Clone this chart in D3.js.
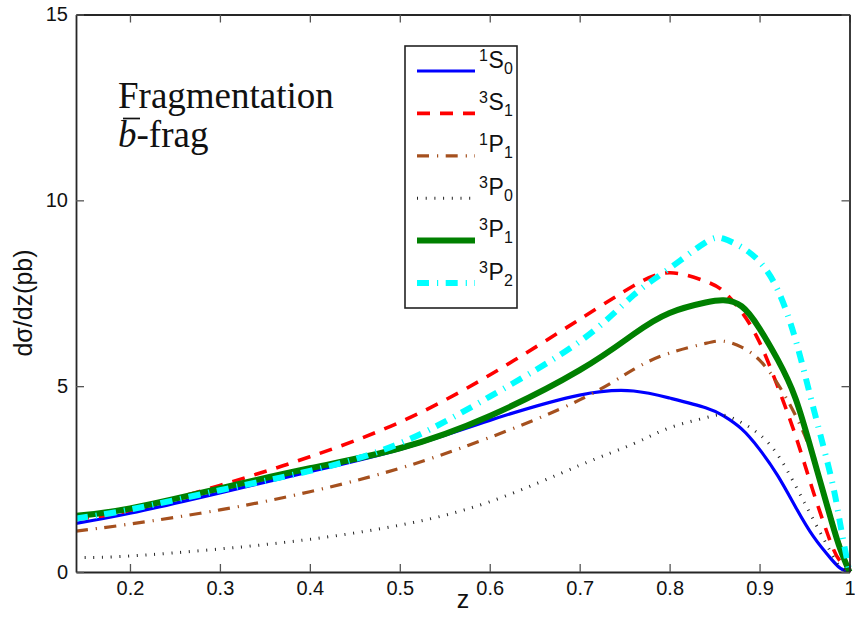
<!DOCTYPE html>
<html>
<head>
<meta charset="utf-8">
<script src="https://cdn.jsdelivr.net/npm/d3@7"></script>
<style>
  html, body { margin: 0; padding: 0; background: #fff; }
  svg { display: block; }
</style>
</head>
<body>
<svg id="chart" width="855" height="627"></svg>
<script>
// z grid shared by all channels
const zValues = [0.14, 0.2, 0.3, 0.4, 0.5, 0.6, 0.7, 0.76, 0.8, 0.84, 0.86, 0.88, 0.9, 0.92, 0.94, 0.96, 0.98, 0.99, 1.0];

// dσ/dz (pb) for each state
const s1S0 = [1.31, 1.58, 2.13, 2.70, 3.30, 4.08, 4.76, 4.87, 4.68, 4.42, 4.20, 3.85, 3.30, 2.60, 1.75, 0.95, 0.34, 0.10, 0];
const s3S1 = [1.42, 1.66, 2.33, 3.10, 4.03, 5.30, 6.80, 7.70, 8.05, 7.82, 7.55, 7.00, 6.18, 5.00, 3.67, 2.14, 0.74, 0.28, 0];
const s1P1 = [1.10, 1.29, 1.67, 2.16, 2.79, 3.62, 4.63, 5.45, 5.89, 6.15, 6.21, 6.05, 5.70, 5.07, 4.21, 3.05, 1.45, 0.70, 0];
const s3P0 = [0.385, 0.43, 0.62, 0.88, 1.26, 1.89, 2.87, 3.45, 3.88, 4.15, 4.22, 4.02, 3.70, 3.16, 2.32, 1.40, 0.50, 0.14, 0];
const s3P1 = [1.51, 1.71, 2.25, 2.79, 3.33, 4.20, 5.43, 6.40, 6.97, 7.25, 7.31, 7.15, 6.55, 5.72, 4.67, 3.07, 1.37, 0.60, 0];
const s3P2 = [1.44, 1.68, 2.20, 2.72, 3.46, 4.72, 6.20, 7.45, 8.17, 8.87, 8.97, 8.74, 8.35, 7.60, 6.25, 4.40, 2.50, 1.25, 0];

// legend labels: [superscript, letter, subscript]
const stateLabels = [["1", "S", "0"], ["3", "S", "1"], ["1", "P", "1"], ["3", "P", "0"], ["3", "P", "1"], ["3", "P", "2"]];

const xTicks = [0.2, 0.3, 0.4, 0.5, 0.6, 0.7, 0.8, 0.9, 1];
const xTickLabels = ["0.2", "0.3", "0.4", "0.5", "0.6", "0.7", "0.8", "0.9", "1"];
const yTicks = [0, 5, 10, 15];
const yTickLabels = ["0", "5", "10", "15"];

const seriesValues = [s1S0, s3S1, s1P1, s3P0, s3P1, s3P2];
const styles = [
  { color: "#0000ff", width: 3.2, dash: null },
  { color: "#ff0000", width: 3.6, dash: "13,10" },
  { color: "#a5501e", width: 3.2, dash: "12,8,1.2,7.5" },
  { color: "#222222", width: 3, dash: "1,7.7" },
  { color: "#008000", width: 6, dash: null },
  { color: "#00ffff", width: 6, dash: "12,8,1.2,7.5" }
];

const sans = "'Liberation Sans', Arial, Helvetica, sans-serif";
const serif = "'Liberation Serif', 'Times New Roman', serif";
const ink = "#111";

const svg = d3.select("#chart");
const plot = { left: 76, right: 849.5, top: 14.5, bottom: 572 };

const x = d3.scaleLinear().domain([0.14, 1]).range([plot.left, plot.right]);
const y = d3.scaleLinear().domain([0, 15]).range([plot.bottom, plot.top]);

svg.append("rect").attr("width", 855).attr("height", 627).attr("fill", "#fff");

svg.append("clipPath").attr("id", "plot-clip")
  .append("rect")
  .attr("x", plot.left).attr("y", plot.top - 5)
  .attr("width", plot.right - plot.left + 4).attr("height", plot.bottom - plot.top + 5);

// curves: smooth natural spline through the sampled points
const line = d3.line()
  .x((d, i) => x(zValues[i]))
  .y(d => y(d))
  .curve(d3.curveNatural);
const curves = svg.append("g").attr("clip-path", "url(#plot-clip)");
seriesValues.forEach((vals, k) => {
  const st = styles[k];
  curves.append("path")
    .attr("d", line(vals))
    .attr("fill", "none")
    .attr("stroke", st.color)
    .attr("stroke-width", st.width)
    .attr("stroke-dasharray", st.dash)
    .attr("stroke-linejoin", "round");
});

// axes: box with inward ticks on all four sides
const tickLen = 8;
const axisColor = "#262626";
const bottomAxis = d3.axisBottom(x).tickValues(xTicks).tickSizeInner(-tickLen).tickSizeOuter(0)
  .tickFormat((d, i) => xTickLabels[i]).tickPadding(9);
const topAxis = d3.axisTop(x).tickValues(xTicks).tickSizeInner(-tickLen).tickSizeOuter(0).tickFormat("");
const leftAxis = d3.axisLeft(y).tickValues(yTicks).tickSizeInner(-tickLen).tickSizeOuter(0)
  .tickFormat((d, i) => yTickLabels[i]).tickPadding(8);
const rightAxis = d3.axisRight(y).tickValues(yTicks).tickSizeInner(-tickLen).tickSizeOuter(0).tickFormat("");

function styleAxis(g) {
  g.attr("font-family", sans).attr("font-size", 20);
  g.select(".domain").attr("stroke", axisColor).attr("stroke-width", 1.8);
  g.selectAll(".tick line").attr("stroke", "#555").attr("stroke-width", 1.3);
  g.selectAll(".tick text").attr("fill", ink);
}

svg.append("g").attr("transform", `translate(0,${plot.bottom})`).call(bottomAxis).call(styleAxis);
svg.append("g").attr("transform", `translate(0,${plot.top})`).call(topAxis).call(styleAxis);
svg.append("g").attr("transform", `translate(${plot.left},0)`).call(leftAxis).call(styleAxis);
svg.append("g").attr("transform", `translate(${plot.right},0)`).call(rightAxis).call(styleAxis);

// axis titles
svg.append("text")
  .attr("x", 463).attr("y", 608)
  .attr("text-anchor", "middle")
  .attr("font-family", sans)
  .attr("font-size", 25)
  .attr("fill", ink)
  .text("z");

svg.append("text")
  .attr("transform", "translate(32,303) rotate(-90)")
  .attr("text-anchor", "middle")
  .attr("font-family", sans)
  .attr("font-size", 25)
  .attr("fill", ink)
  .text("dσ/dz(pb)");

// annotation
svg.append("text")
  .attr("x", 118).attr("y", 108)
  .attr("font-family", serif).attr("font-size", 37).attr("fill", ink)
  .text("Fragmentation");
const frag = svg.append("text")
  .attr("x", 118).attr("y", 147)
  .attr("font-family", serif).attr("font-size", 37).attr("fill", ink);
frag.append("tspan").attr("font-style", "italic").text("b");
frag.append("tspan").text("-frag");
svg.append("line")
  .attr("x1", 123).attr("x2", 140).attr("y1", 118.5).attr("y2", 118.5)
  .attr("stroke", ink).attr("stroke-width", 1.7);

// legend
const legend = { x0: 405, y0: 46, x1: 517, y1: 308 };
const legendRows = d3.scaleLinear().domain([0, 5]).range([71, 283]);
svg.append("rect")
  .attr("x", legend.x0).attr("y", legend.y0)
  .attr("width", legend.x1 - legend.x0).attr("height", legend.y1 - legend.y0)
  .attr("fill", "#fff").attr("stroke", "#222").attr("stroke-width", 1.6);

stateLabels.forEach((lab, k) => {
  const st = styles[k];
  const ry = legendRows(k);
  svg.append("line")
    .attr("x1", 417).attr("x2", 475).attr("y1", ry).attr("y2", ry)
    .attr("stroke", st.color).attr("stroke-width", st.width)
    .attr("stroke-dasharray", st.dash);
  const g = svg.append("g").attr("font-family", sans).attr("fill", ink);
  g.append("text").attr("x", 479).attr("y", ry - 10.5).attr("font-size", 16).text(lab[0]);
  g.append("text").attr("x", 488.5).attr("y", ry - 3.5).attr("font-size", 23).text(lab[1]);
  g.append("text").attr("x", 504).attr("y", ry + 2.5).attr("font-size", 16).text(lab[2]);
});
</script>
</body>
</html>
